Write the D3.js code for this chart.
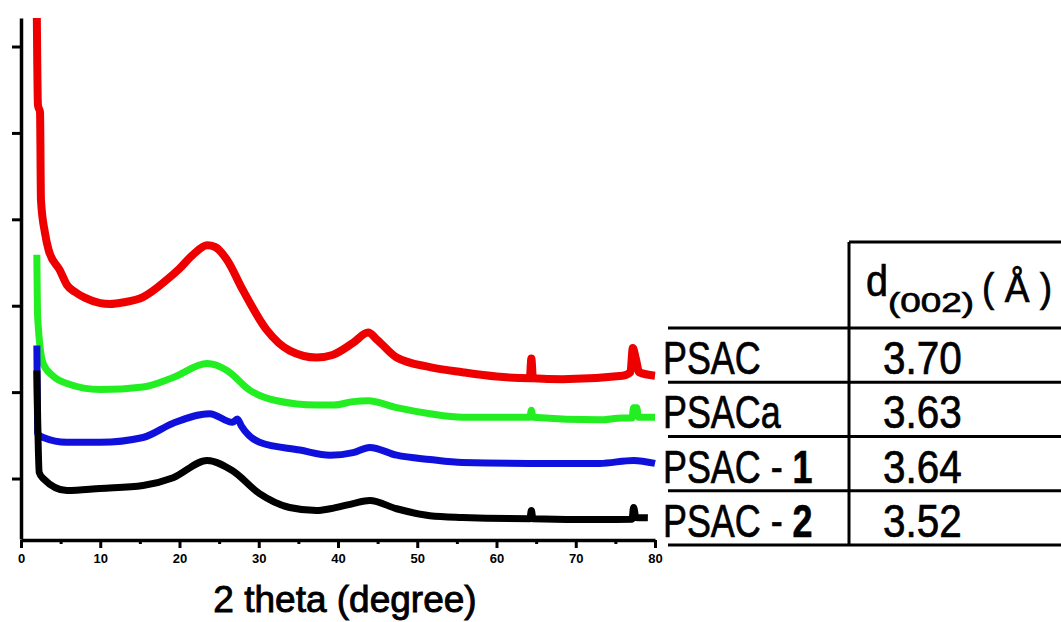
<!DOCTYPE html>
<html>
<head>
<meta charset="utf-8">
<script src="https://cdn.jsdelivr.net/npm/d3@7"></script>
<style>
  html, body { margin: 0; padding: 0; background: #fff; }
  svg { display: block; font-family: "Liberation Sans", Arial, sans-serif; }
</style>
</head>
<body>
<svg id="chart" width="1061" height="622"></svg>
<script>
// x ticks (2 theta, degree)
var xTicks = [0, 10, 20, 30, 40, 50, 60, 70, 80];
var xMinorTicks = [5, 15, 25, 35, 45, 55, 65, 75];
// unlabelled intensity ticks (a.u.)
var yTicks = [0, 1000, 2000, 3000, 4000, 5000];

// [2 theta, intensity], curves already offset
var psac = [[2.0, 5330], [2.14, 4320], [2.4, 4240], [2.52, 3220], [3.03, 2840], [3.5, 2640], [4.9, 2410],
  [5.8, 2240], [6.8, 2160], [8.1, 2090], [10, 2030], [11.2, 2020], [13, 2040], [15.4, 2100], [18.4, 2300],
  [20, 2430], [21.7, 2590], [23.5, 2700], [24.5, 2680], [26, 2530], [28, 2180], [31, 1720], [33.9, 1480],
  [37.3, 1400], [39.3, 1430], [41.9, 1570], [43.8, 1690], [45, 1600], [47.4, 1400], [51.6, 1290],
  [55.7, 1230], [60, 1180], [64.2, 1160], [64.4, 1390], [64.6, 1160], [68.3, 1150], [75.9, 1190],
  [76.9, 1230], [77.2, 1510], [77.6, 1380], [78, 1230], [80, 1190]];
var psacA = [[2.0, 2590], [2.1, 1870], [2.8, 1330], [4, 1190], [5.8, 1100], [10, 1030], [15.4, 1060],
  [19.2, 1170], [23.5, 1330], [26, 1250], [28.9, 1020], [32.3, 900], [37.3, 850], [39.5, 850], [41.9, 890],
  [43.8, 900], [47.4, 820], [51.6, 750], [55.7, 710], [64.2, 710], [64.4, 790], [64.6, 710], [73, 680],
  [75.9, 700], [77.1, 700], [77.3, 820], [77.7, 820], [77.9, 710], [80, 710]];
var psac1 = [[2.0, 1540], [2.1, 520], [2.8, 475], [5.8, 420], [10, 420], [15.4, 475], [19.2, 640],
  [23.8, 750], [26.7, 650], [27.3, 690], [27.8, 610], [30.1, 420], [35.2, 330], [39, 270], [41.9, 300],
  [44, 360], [47.4, 270], [51.6, 220], [55.7, 185], [64.2, 175], [73, 175], [77.3, 210], [80, 175]];
var psac2 = [[2.0, 1250], [2.3, 70], [2.8, 0], [5.8, -140], [10, -115], [15.4, -80], [19.2, 10],
  [23.5, 210], [26.7, 90], [30.1, -175], [33.9, -335], [37.3, -370], [39, -350], [41.9, -290],
  [44, -255], [47.4, -350], [51.6, -430], [55.7, -450], [64.2, -465], [64.4, -370], [64.6, -465],
  [73, -475], [77.1, -470], [77.3, -335], [77.6, -450], [79.1, -455]];

var seriesColors = ["#ee0000", "#22ee22", "#1010dd", "#000000"];

// table
var sampleNames = ["PSAC", "PSACa", "PSAC - 1", "PSAC - 2"];
var dSpacing = ["3.70", "3.63", "3.64", "3.52"];

var svg = d3.select("#chart");

var x = d3.scaleLinear().domain([0, 80]).range([21, 655]);
var y = d3.scaleLinear().domain([-700, 5330]).range([539, 18]);

// curves
var line = d3.line()
    .x(d => x(d[0]))
    .y(d => y(d[1]))
    .curve(d3.curveMonotoneX);

svg.append("g").selectAll("path")
    .data([psac, psacA, psac1, psac2])
    .enter().append("path")
    .attr("d", line)
    .attr("fill", "none")
    .attr("stroke", (d, i) => seriesColors[i])
    .attr("stroke-width", (d, i) => i == 0 ? 8 : 7)
    .attr("stroke-linejoin", "round")
    .attr("stroke-linecap", "butt");

// x axis
var xAxis = svg.append("g")
    .attr("transform", "translate(0,540)")
    .call(d3.axisBottom(x).tickValues(xTicks).tickSize(8).tickSizeOuter(0).tickPadding(6));
xAxis.selectAll("text")
    .attr("font-family", "Liberation Sans, Arial, sans-serif")
    .attr("font-size", "13px")
    .attr("font-weight", "bold")
    .attr("fill", "#000");

svg.append("g")
    .attr("transform", "translate(0,540)")
    .call(d3.axisBottom(x).tickValues(xMinorTicks).tickSize(4).tickFormat(""))
    .select(".domain").remove();

// y axis
svg.append("g")
    .attr("transform", "translate(21,0)")
    .call(d3.axisLeft(y).tickValues(yTicks).tickSize(9).tickSizeOuter(0).tickFormat(""));

svg.selectAll(".domain").attr("stroke", "#000").attr("stroke-width", 3.5);
svg.selectAll(".tick line").attr("stroke", "#000").attr("stroke-width", 3);

// axis title
svg.append("text")
    .attr("x", 345)
    .attr("y", 612)
    .attr("text-anchor", "middle")
    .attr("font-size", "37px")
    .attr("fill", "#000")
    .attr("stroke", "#000")
    .attr("stroke-width", 0.9)
    .text("2 theta (degree)");

// table
var rows = d3.scaleBand().domain(sampleNames).range([328, 545]);
var table = svg.append("g")
    .attr("stroke-width", 0.7);

function hline(x1, x2, yy) {
    table.append("line")
        .attr("x1", x1).attr("x2", x2)
        .attr("y1", yy).attr("y2", yy)
        .attr("stroke", "#000").attr("stroke-width", 3);
}
hline(849, 1061, 242);
hline(668, 1061, 328);
sampleNames.forEach(function(n) { hline(668, 1061, rows(n) + rows.bandwidth()); });
table.append("line")
    .attr("x1", 849).attr("x2", 849)
    .attr("y1", 242).attr("y2", 545)
    .attr("stroke", "#000").attr("stroke-width", 3);

// header d(002) (Å)
table.append("text")
    .attr("transform", "translate(866,296) scale(0.9,1)")
    .attr("font-size", "44px")
    .attr("stroke", "#000")
    .text("d");
table.append("text")
    .attr("x", 888).attr("y", 312)
    .attr("font-size", "28px")
    .attr("textLength", 86)
    .attr("lengthAdjust", "spacingAndGlyphs")
    .attr("stroke", "#000")
    .text("(002)");
table.append("text")
    .attr("x", 982).attr("y", 302)
    .attr("font-size", "40px")
    .attr("textLength", 70)
    .attr("lengthAdjust", "spacingAndGlyphs")
    .attr("stroke", "#000")
    .text("( Å )");

// row labels
sampleNames.forEach(function(n) {
    var parts = n.split(" - ");
    var t = table.append("text")
        .attr("transform", "translate(663," + (rows(n) + rows.bandwidth() / 2 + 19) + ") scale(0.78,1)")
        .attr("font-size", "46px")
        .attr("stroke", "#000");
    t.append("tspan").text(parts.length > 1 ? parts[0] + " - " : n);
    if (parts.length > 1) t.append("tspan").attr("font-weight", "bold").text(parts[1]);
});

// d-spacing values
dSpacing.forEach(function(v, i) {
    table.append("text")
        .attr("transform", "translate(883," + (rows(sampleNames[i]) + rows.bandwidth() / 2 + 19) + ") scale(0.88,1)")
        .attr("font-size", "46px")
        .attr("stroke", "#000")
        .text(v);
});
</script>
</body>
</html>
